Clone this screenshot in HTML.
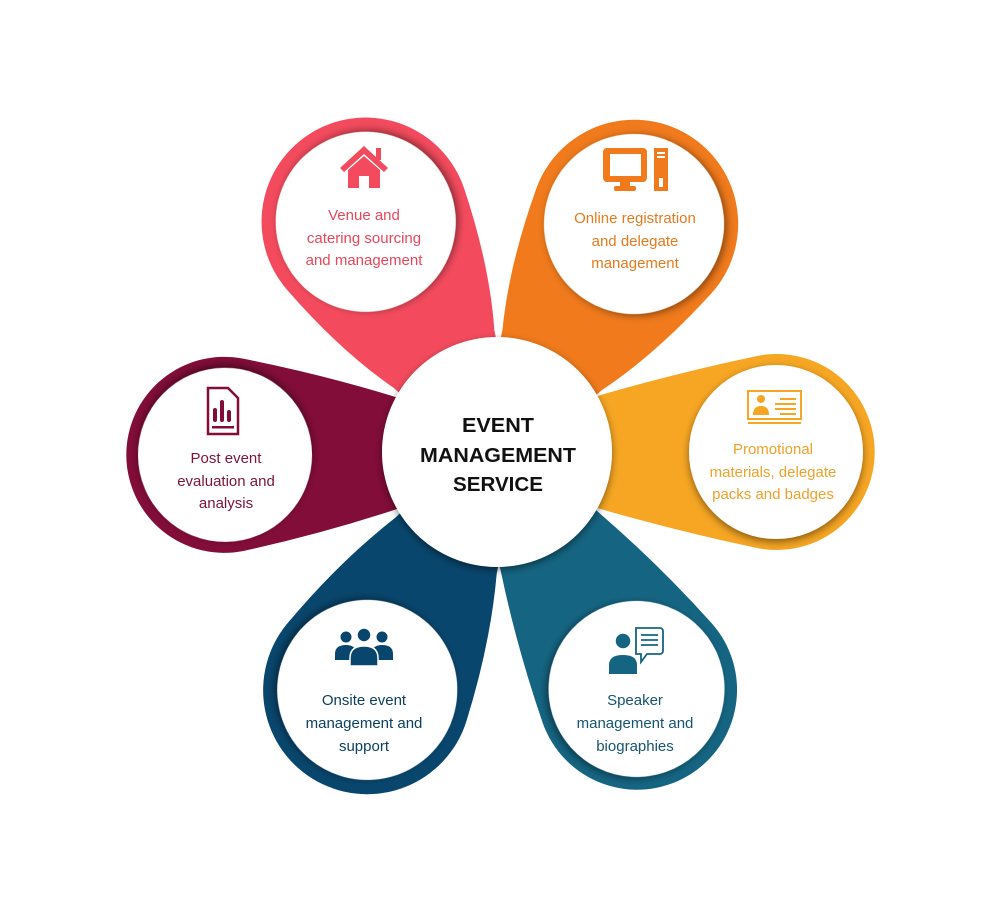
<!DOCTYPE html>
<html><head><meta charset="utf-8"><style>
html,body{margin:0;padding:0;background:#fff;}
svg{display:block;}
text{font-family:"Liberation Sans",sans-serif;}
</style></head><body>
<svg width="1000" height="907" viewBox="0 0 1000 907" xmlns="http://www.w3.org/2000/svg">
<defs>
<filter id="sh" x="-30%" y="-30%" width="160%" height="160%">
<feDropShadow dx="0" dy="3" stdDeviation="4" flood-color="#000" flood-opacity="0.45"/>
</filter>
</defs>
<g transform="translate(497,452)">
<g transform="rotate(240.3)"><path d="M20,30 L107,58 Q165,86 245,102 A104 104 0 1 0 245,-102 Q165,-86 107,-58 L20,-30 Z" fill="#f34b5d"/><circle cx="265" cy="0" r="90" fill="#fff" filter="url(#sh)"/></g>
<g transform="rotate(301)"><path d="M20,30 L107,58 Q166,86 246,102 A104 104 0 1 0 246,-102 Q166,-86 107,-58 L20,-30 Z" fill="#f07a1c"/><circle cx="266" cy="0" r="90" fill="#fff" filter="url(#sh)"/></g>
<g transform="rotate(0)"><path d="M20,30 L107,58 Q184,80 260,96 A98 98 0 1 0 260,-96 Q184,-80 107,-58 L20,-30 Z" fill="#f6a623"/><circle cx="279" cy="0" r="87" fill="#fff" filter="url(#sh)"/></g>
<g transform="rotate(179.4)"><path d="M20,30 L107,58 Q177,80 253,96 A98 98 0 1 0 253,-96 Q177,-80 107,-58 L20,-30 Z" fill="#820d38"/><circle cx="272" cy="0" r="87" fill="#fff" filter="url(#sh)"/></g>
<g transform="rotate(118.6)"><path d="M20,30 L107,58 Q171,86 251,102 A104 104 0 1 0 251,-102 Q171,-86 107,-58 L20,-30 Z" fill="#09466d"/><circle cx="271" cy="0" r="90" fill="#fff" filter="url(#sh)"/></g>
<g transform="rotate(59.5)"><path d="M20,30 L107,58 Q178,82 256,98 A100 100 0 1 0 256,-98 Q178,-82 107,-58 L20,-30 Z" fill="#156582"/><circle cx="275" cy="0" r="88" fill="#fff" filter="url(#sh)"/></g>
<circle cx="0" cy="0" r="115" fill="#fff" filter="url(#sh)"/>
</g>

<g font-size="20" fill="#111" text-anchor="middle" font-weight="bold">
<text x="498" y="432" textLength="72" lengthAdjust="spacingAndGlyphs">EVENT</text>
<text x="498" y="462" textLength="156" lengthAdjust="spacingAndGlyphs">MANAGEMENT</text>
<text x="498" y="491" textLength="90" lengthAdjust="spacingAndGlyphs">SERVICE</text>
</g>

<g fill="#f34b5d">
<path d="M340,168 L364,146 L388,168 L384,172 L364,154 L344,172 Z"/>
<rect x="376" y="148" width="5" height="12"/>
<path d="M348,170 L364,156 L380,170 L380,188 L369,188 L369,176 L359,176 L359,188 L348,188 Z"/>
</g>
<g fill="#f07a1c">
<path d="M607,148 h36 a4,4 0 0 1 4,4 v26 a4,4 0 0 1 -4,4 h-36 a4,4 0 0 1 -4,-4 v-26 a4,4 0 0 1 4,-4z M610,154 v22 h31 v-22z" fill-rule="evenodd"/>
<rect x="620" y="182" width="10" height="5"/>
<rect x="614" y="186" width="22" height="5" rx="2"/>
<rect x="654" y="148" width="14" height="43"/>
<rect x="657" y="152" width="8" height="2" fill="#fff"/>
<rect x="657" y="156" width="8" height="2" fill="#fff"/>
<rect x="659" y="178" width="4" height="9" fill="#fff"/>
</g>
<g fill="none" stroke="#f6a623" stroke-width="2">
<rect x="748" y="391" width="53" height="28"/>
<line x1="748" y1="423" x2="801" y2="423"/>
<line x1="780" y1="399" x2="796" y2="399"/><line x1="775" y1="404" x2="796" y2="404"/>
<line x1="775" y1="409" x2="796" y2="409"/><line x1="780" y1="414" x2="796" y2="414"/>
</g>
<g fill="#f6a623"><circle cx="761" cy="399" r="4"/><path d="M753,415 q0,-9 8,-9 q8,0 8,9z"/></g>
<g>
<path d="M208,388 h20 l10,10 v36 h-30z" fill="none" stroke="#820d38" stroke-width="2.5"/>
<g fill="#820d38"><rect x="213" y="408" width="4" height="14" rx="2"/><rect x="220" y="400" width="4" height="22" rx="2"/><rect x="227" y="410" width="4" height="12" rx="2"/><rect x="212" y="426" width="22" height="2.5"/></g>
</g>
<g fill="#09466d">
<circle cx="346" cy="637" r="5.5"/><circle cx="382" cy="637" r="5.5"/>
<path d="M335,660 v-6 q0,-9 11,-9 q9,0 10,7 v8z"/>
<path d="M393,660 v-6 q0,-9 -11,-9 q-9,0 -10,7 v8z"/>
<circle cx="364" cy="635" r="7" stroke="#fff" stroke-width="1.5"/>
<path d="M350,666 v-8 q0,-12 14,-12 q14,0 14,12 v8z" stroke="#fff" stroke-width="1.5"/>
</g>
<g>
<path d="M636,628 h24 a3,3 0 0 1 3,3 v20 a3,3 0 0 1 -3,3 h-13 l-6,8 v-8 h-5z" fill="none" stroke="#156582" stroke-width="1.8"/>
<g stroke="#156582" stroke-width="1.8"><line x1="641" y1="635" x2="658" y2="635"/><line x1="641" y1="640" x2="658" y2="640"/><line x1="641" y1="645" x2="658" y2="645"/></g>
<circle cx="623" cy="641" r="8" fill="#156582" stroke="#fff" stroke-width="1.5"/>
<path d="M609,674 v-9 q0,-10 14,-10 q14,0 14,10 v9z" fill="#156582"/>
</g>

<g font-size="15" text-anchor="middle">
<g fill="#e8475a"><text x="364" y="220">Venue and</text><text x="364" y="243">catering sourcing</text><text x="364" y="265">and management</text></g>
<g fill="#e67a1e"><text x="635" y="223">Online registration</text><text x="635" y="246">and delegate</text><text x="635" y="268">management</text></g>
<g fill="#efa12a"><text x="773" y="454">Promotional</text><text x="773" y="477">materials, delegate</text><text x="773" y="499">packs and badges</text></g>
<g fill="#7e1438"><text x="226" y="463">Post event</text><text x="226" y="486">evaluation and</text><text x="226" y="508">analysis</text></g>
<g fill="#0d3f63"><text x="364" y="705">Onsite event</text><text x="364" y="728">management and</text><text x="364" y="751">support</text></g>
<g fill="#155472"><text x="635" y="705">Speaker</text><text x="635" y="728">management and</text><text x="635" y="751">biographies</text></g>
</g>
</svg>
</body></html>
